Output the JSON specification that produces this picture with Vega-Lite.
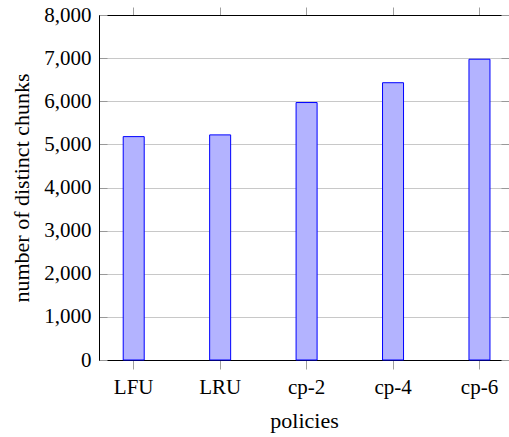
{
  "$schema": "https://vega.github.io/schema/vega-lite/v6.json",
  "autosize": "none",
  "width": 410,
  "height": 345,
  "padding": {"left": 99, "top": 15, "right": 0, "bottom": 77},
  "background": "white",
  "config": {
    "view": {"stroke": "black", "strokeWidth": 1},
    "axis": {"labelFont": "Liberation Serif", "titleFont": "Liberation Serif", "labelColor": "black", "titleColor": "black", "titleFontWeight": "normal"}
  },
  "data": {
    "values": [
      {"policy": "LFU", "chunks": 5180},
      {"policy": "LRU", "chunks": 5220},
      {"policy": "cp-2", "chunks": 5970},
      {"policy": "cp-4", "chunks": 6430},
      {"policy": "cp-6", "chunks": 6975}
    ]
  },
  "layer": [
    {
      "mark": {"type": "bar", "fill": "#b3b3ff", "stroke": "#0000ff", "strokeWidth": 1},
      "encoding": {
        "x": {
          "field": "policy", "type": "nominal", "sort": null,
          "scale": {"paddingInner": 0.757, "paddingOuter": 0.25, "align": 0.56},
          "axis": {
            "orient": "bottom", "title": "policies", "labelAngle": 0,
            "labelFont": "Liberation Serif", "titleFont": "Liberation Serif",
            "titleFontWeight": "normal",
            "labelFontSize": 21, "titleFontSize": 22,
            "domainColor": "black", "domainWidth": 1,
            "tickColor": "#a0a0a0", "tickSize": 9, "tickWidth": 1,
            "labelPadding": 7, "titlePadding": 13
          }
        },
        "y": {
          "field": "chunks", "type": "quantitative",
          "scale": {"domain": [0, 8000], "nice": false},
          "axis": {
            "orient": "left",
            "title": "number of distinct chunks", "format": ",d",
            "values": [0, 1000, 2000, 3000, 4000, 5000, 6000, 7000, 8000],
            "labelFont": "Liberation Serif", "titleFont": "Liberation Serif",
            "titleFontWeight": "normal",
            "grid": true, "gridColor": "#c8c8c8", "gridWidth": 1,
            "ticks": true, "tickSize": -8, "tickColor": "#999999", "labelPadding": 16,
            "labelFontSize": 21, "titleFontSize": 22,
            "domainColor": "black", "domainWidth": 1, "titlePadding": 10
          }
        }
      }
    },
    {
      "mark": {"type": "bar", "opacity": 0},
      "encoding": {
        "x": {
          "field": "policy", "type": "nominal", "sort": null,
          "axis": {
            "orient": "top", "title": null, "labels": false,
            "domainColor": "black", "domainWidth": 1,
            "tickColor": "#a0a0a0", "tickSize": 8, "tickWidth": 1
          }
        },
        "y": {
          "field": "chunks", "type": "quantitative",
          "axis": {
            "orient": "right", "title": null, "labels": false, "grid": false,
            "values": [0, 1000, 2000, 3000, 4000, 5000, 6000, 7000, 8000],
            "ticks": true, "tickSize": -8, "tickColor": "#999999",
            "domainColor": "black", "domainWidth": 1
          }
        }
      }
    }
  ],
  "resolve": {"axis": {"x": "independent", "y": "independent"}}
}
